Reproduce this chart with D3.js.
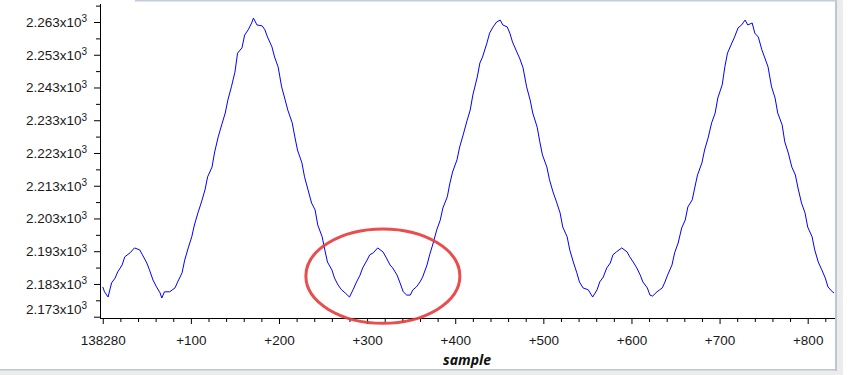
<!DOCTYPE html>
<html>
<head>
<meta charset="utf-8">
<script src="https://cdn.jsdelivr.net/npm/d3@7/dist/d3.min.js"></script>
<style>
  body { margin: 0; background: #fff; }
  svg { display: block; font-family: "Segoe UI", "Noto Sans", sans-serif; }
</style>
</head>
<body>
<div id="chart"></div>
<script>
// first sample number, the rest of the axis is shown as "+n"
const startSample = 138280;

// sample offsets
const sampleOffsets = [
    0, 2, 6, 10, 14, 17, 22, 25, 31, 36, 42, 45, 50, 53, 57, 61, 65, 67, 70, 76,
    82, 85, 90, 93, 97, 101, 104, 108, 112, 116, 119, 124, 127, 131, 135, 139, 142, 146, 150, 153,
    158, 161, 165, 169, 171, 175, 181, 184, 187, 192, 195, 199, 203, 207, 210, 215, 218, 221, 226, 229,
    233, 237, 241, 244, 249, 252, 255, 260, 263, 267, 271, 275, 280, 284, 288, 292, 295, 300, 303, 307,
    312, 318, 322, 326, 329, 334, 337, 341, 345, 349, 352, 356, 360, 363, 368, 371, 375, 379, 383, 386,
    391, 394, 397, 402, 405, 409, 413, 417, 420, 425, 428, 431, 436, 439, 443, 447, 451, 454, 459, 462,
    465, 470, 473, 477, 481, 485, 488, 493, 496, 499, 504, 507, 511, 515, 519, 522, 527, 530, 534, 538,
    541, 545, 551, 556, 561, 564, 568, 572, 576, 579, 583, 589, 595, 598, 602, 606, 610, 613, 618, 621,
    624, 629, 632, 635, 638, 641, 646, 649, 653, 657, 661, 664, 669, 672, 675, 680, 683, 687, 691, 695,
    698, 703, 706, 709, 714, 717, 721, 725, 729, 732, 737, 740, 744, 748, 751, 755, 759, 763, 766, 771,
    774, 778, 782, 786, 789, 793, 797, 800, 805, 808, 812, 816, 820, 823, 828, 830
];

// signal value at each offset
const sampleValues = [
    2182.1, 2180.6, 2179.0, 2183.3, 2184.8, 2186.7, 2188.8, 2191.3, 2192.5, 2194.0,
    2193.4, 2191.9, 2189.4, 2187.3, 2184.2, 2182.1, 2180.3, 2178.7, 2180.6, 2180.6,
    2181.8, 2183.6, 2186.4, 2190.3, 2194.0, 2197.4, 2201.0, 2204.7, 2208.0, 2211.7,
    2215.7, 2218.7, 2223.3, 2227.9, 2231.6, 2235.2, 2239.2, 2243.2, 2247.7, 2253.5,
    2255.1, 2259.0, 2260.6, 2262.7, 2264.2, 2262.1, 2261.8, 2260.6, 2258.4, 2255.4,
    2252.3, 2249.3, 2243.2, 2239.2, 2236.1, 2232.2, 2227.9, 2223.9, 2220.0, 2215.7,
    2211.7, 2207.7, 2205.6, 2201.0, 2197.4, 2193.4, 2189.7, 2187.3, 2184.8, 2182.7,
    2181.2, 2180.3, 2179.0, 2181.2, 2183.6, 2185.7, 2187.9, 2190.3, 2191.9, 2192.5,
    2194.0, 2192.8, 2190.9, 2188.8, 2187.9, 2185.7, 2183.6, 2180.6, 2179.6, 2179.6,
    2181.2, 2182.1, 2183.6, 2185.1, 2188.8, 2191.9, 2195.5, 2199.5, 2202.5, 2206.2,
    2209.6, 2213.8, 2217.2, 2220.9, 2224.8, 2228.5, 2232.5, 2236.1, 2240.7, 2246.2,
    2250.5, 2252.3, 2256.6, 2259.6, 2261.5, 2263.0, 2263.6, 2262.1, 2261.5, 2259.6,
    2256.9, 2253.8, 2252.0, 2249.0, 2243.2, 2239.2, 2235.2, 2230.9, 2226.4, 2222.4,
    2218.7, 2214.8, 2211.1, 2208.0, 2204.7, 2200.4, 2197.4, 2193.4, 2189.7, 2186.4,
    2183.6, 2181.8, 2181.2, 2179.0, 2181.2, 2183.6, 2185.1, 2187.9, 2189.4, 2191.9,
    2192.8, 2194.0, 2192.8, 2191.3, 2189.7, 2187.9, 2185.7, 2183.6, 2181.8, 2179.6,
    2179.3, 2180.6, 2181.2, 2181.8, 2183.6, 2185.7, 2188.8, 2192.5, 2195.5, 2200.1,
    2202.5, 2206.5, 2208.7, 2212.6, 2216.3, 2220.0, 2223.9, 2227.6, 2232.2, 2235.2,
    2239.8, 2243.8, 2249.3, 2253.5, 2256.6, 2258.4, 2261.2, 2262.1, 2263.6, 2262.1,
    2262.7, 2259.6, 2258.4, 2254.5, 2252.3, 2249.3, 2243.2, 2239.8, 2235.2, 2231.6,
    2226.4, 2223.0, 2218.7, 2216.3, 2212.3, 2207.7, 2204.7, 2200.4, 2197.4, 2193.4,
    2189.7, 2187.3, 2184.8, 2182.1, 2180.6, 2180.3
];

// axis ticks
const yMajorTicks = [2173, 2183, 2193, 2203, 2213, 2223, 2233, 2243, 2253, 2263];
const yMinorTicks = [2178, 2188, 2198, 2208, 2218, 2228, 2238, 2248, 2258, 2268];
const xMajorTicks = [0, 100, 200, 300, 400, 500, 600, 700, 800];
const xMinorStep = 20;

// the red ring drawn round the small bump
const ringSamples = [230.5, 405.3];
const ringValues = [2171.0, 2199.8];

const data = sampleOffsets.map((d, i) => ({sample: startSample + d, value: sampleValues[i]}));

const width = 860, height = 375;

const svg = d3.select("#chart").append("svg")
    .attr("width", width)
    .attr("height", height);

// window frame around the plot
svg.append("rect").attr("x", 0).attr("y", 370).attr("width", 843).attr("height", 5).attr("fill", "#ececec");
svg.append("rect").attr("x", 837).attr("y", 0).attr("width", 6).attr("height", 375).attr("fill", "#ececec");
svg.append("rect").attr("x", 835).attr("y", 0).attr("width", 2).attr("height", 371).attr("fill", "#bcc6d6");
svg.append("rect").attr("x", 0).attr("y", 369).attr("width", 837).attr("height", 1.5).attr("fill", "#bcc6d6");
svg.append("rect").attr("x", 135).attr("y", 0).attr("width", 702).attr("height", 1.5).attr("fill", "#c3cbdc");

// scales
const x = d3.scaleLinear()
    .domain([startSample - 2, startSample + 831])
    .range([101, 835]);

const y = d3.scaleLinear()
    .domain([2172.6, 2268.5])
    .range([318, 4]);

// minor ticks first, majors on top
svg.append("g")
    .attr("transform", "translate(100,0)")
    .call(d3.axisLeft(y).tickValues(yMinorTicks).tickSize(4).tickSizeOuter(0).tickFormat(""))
    .call(g => g.select(".domain").remove());

const yAxis = svg.append("g")
    .attr("transform", "translate(100,0)")
    .call(d3.axisLeft(y).tickValues(yMajorTicks).tickSize(6).tickSizeOuter(0).tickPadding(7));

yAxis.select(".domain").attr("d", "M0.5," + 4 + "V318");
yAxis.selectAll("text")
    .attr("fill", "#1a1a1a")
    .style("font-size", "13.5px")
    .each(function (d) {
        let t = d3.select(this).text(null);
        t.append("tspan").text((d / 1000).toFixed(3) + "x10");
        t.append("tspan").attr("dy", "-0.45em").style("font-size", "10px").text("3");
        // bottom label is pushed up so it stays inside the plot
        if (d === 2173) t.attr("y", -8);
    });

const xMinor = d3.range(0, 831, xMinorStep).filter(d => d % 100 !== 0).map(d => startSample + d);

svg.append("g")
    .attr("transform", "translate(0,318)")
    .call(d3.axisBottom(x).tickValues(xMinor).tickSize(4).tickSizeOuter(0).tickFormat(""))
    .call(g => g.select(".domain").remove());

const xAxis = svg.append("g")
    .attr("transform", "translate(0,318)")
    .call(d3.axisBottom(x).tickValues(xMajorTicks.map(d => startSample + d))
        .tickSize(6).tickSizeOuter(0).tickPadding(11)
        .tickFormat(d => d === startSample ? String(d) : "+" + (d - startSample)));

xAxis.select(".domain").attr("d", "M100,0.5H835");
xAxis.selectAll("text")
    .attr("fill", "#1a1a1a")
    .style("font-size", "13.5px");

svg.append("text")
    .attr("x", 467)
    .attr("y", 365)
    .attr("text-anchor", "middle")
    .style("font-size", "14px")
    .style("font-weight", "bold")
    .style("font-style", "italic")
    .attr("fill", "#111")
    .text("sample");

// signal
const line = d3.line()
    .x(d => x(d.sample))
    .y(d => y(d.value));

svg.append("path")
    .datum(data)
    .attr("fill", "none")
    .attr("stroke", "#0000ff")
    .attr("stroke-width", 1)
    .attr("d", line);

// annotation ring
const cx = (x(startSample + ringSamples[0]) + x(startSample + ringSamples[1])) / 2;
const cy = (y(ringValues[0]) + y(ringValues[1])) / 2;
svg.append("ellipse")
    .attr("cx", cx)
    .attr("cy", cy)
    .attr("rx", Math.abs(x(startSample + ringSamples[1]) - x(startSample + ringSamples[0])) / 2)
    .attr("ry", Math.abs(y(ringValues[0]) - y(ringValues[1])) / 2)
    .attr("fill", "none")
    .attr("stroke", "#e83a3a")
    .attr("stroke-opacity", 0.9)
    .attr("stroke-width", 3);
</script>
</body>
</html>
